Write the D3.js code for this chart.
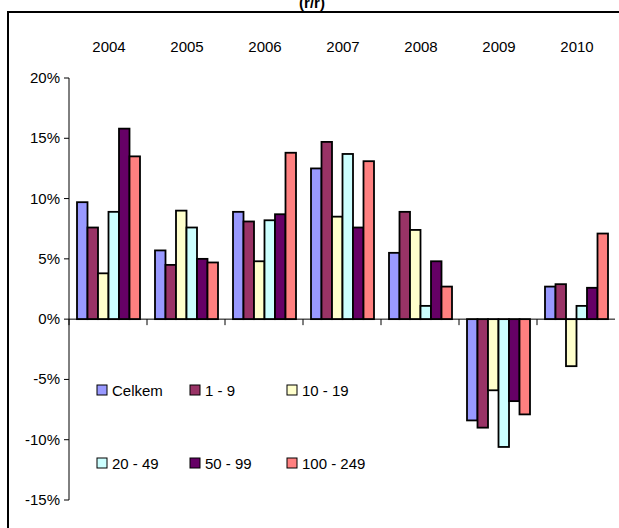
<!DOCTYPE html>
<meta charset="utf-8">
<style>
  body { margin: 0; background: white; }
  text { font-family: "Liberation Sans", Arial, sans-serif; }
</style>
<script src="https://d3js.org/d3.v7.min.js"></script>
<body>
<div id="chart"></div>
<script>
  const years = ["2004", "2005", "2006", "2007", "2008", "2009", "2010"];
  const series = ["Celkem", "1 - 9", "10 - 19", "20 - 49", "50 - 99", "100 - 249"];
  const colors = ["#9999FF", "#993366", "#FFFFCC", "#CCFFFF", "#660066", "#FF8080"];
  const celkem = [9.7, 5.7, 8.9, 12.5, 5.5, -8.4, 2.7];
  const s1_9 = [7.6, 4.5, 8.1, 14.7, 8.9, -9.0, 2.9];
  const s10_19 = [3.8, 9.0, 4.8, 8.5, 7.4, -5.9, -3.9];
  const s20_49 = [8.9, 7.6, 8.2, 13.7, 1.1, -10.6, 1.1];
  const s50_99 = [15.8, 5.0, 8.7, 7.6, 4.8, -6.8, 2.6];
  const s100_249 = [13.5, 4.7, 13.8, 13.1, 2.7, -7.9, 7.1];
  const values = [celkem, s1_9, s10_19, s20_49, s50_99, s100_249];
  const yTicks = [20, 15, 10, 5, 0, -5, -10, -15];

  const svg = d3.select("#chart").append("svg").attr("width", 619).attr("height", 528);

  // title, only its lower part is visible
  svg.append("text").attr("x", 312).attr("y", 8).attr("text-anchor", "middle")
    .attr("font-size", 15).attr("font-weight", "bold").text("(r/r)");

  svg.append("rect").attr("x", 8).attr("y", 12).attr("width", 620).attr("height", 530)
    .attr("fill", "none").attr("stroke", "black").attr("stroke-width", 2);

  const y = d3.scaleLinear().domain([-15, 20]).range([500, 78]);
  const x0 = d3.scaleBand().domain(years).range([69, 615]);
  const x1 = d3.scaleBand().domain(series).range([8, 71]);

  // y axis
  svg.append("line").attr("x1", 69).attr("x2", 69).attr("y1", y(20)).attr("y2", y(-15)).attr("stroke", "black");
  yTicks.forEach(t => {
    svg.append("line").attr("x1", 64).attr("x2", 69).attr("y1", y(t)).attr("y2", y(t)).attr("stroke", "black");
    svg.append("text").attr("x", 60).attr("y", y(t) + 5).attr("text-anchor", "end")
      .attr("font-size", 15).text(t + "%");
  });

  // year labels
  years.forEach(yr => {
    svg.append("text").attr("x", x0(yr) + x0.bandwidth() / 2 + 1).attr("y", 52)
      .attr("text-anchor", "middle").attr("font-size", 15).text(yr);
  });

  // bars
  years.forEach((yr, i) => {
    series.forEach((s, j) => {
      const v = values[j][i];
      svg.append("rect")
        .attr("x", x0(yr) + x1(s)).attr("width", x1.bandwidth())
        .attr("y", y(Math.max(0, v))).attr("height", Math.abs(y(v) - y(0)))
        .attr("fill", colors[j]).attr("stroke", "black").attr("stroke-width", 1.8);
    });
  });

  // x axis at zero
  svg.append("line").attr("x1", 69).attr("x2", 615).attr("y1", y(0)).attr("y2", y(0)).attr("stroke", "black");
  years.forEach(yr => {
    svg.append("line").attr("x1", x0(yr)).attr("x2", x0(yr)).attr("y1", y(0)).attr("y2", y(0) + 6).attr("stroke", "black");
  });

  // legend
  const legX = [97, 190, 287], legY = [391, 464];
  series.forEach((s, j) => {
    const lx = legX[j % 3], ly = legY[Math.floor(j / 3)];
    svg.append("rect").attr("x", lx).attr("y", ly - 6).attr("width", 10).attr("height", 10)
      .attr("fill", colors[j]).attr("stroke", "black").attr("stroke-width", 1);
    svg.append("text").attr("x", lx + 15).attr("y", ly + 5).attr("font-size", 15).text(s);
  });
</script>
</body>
